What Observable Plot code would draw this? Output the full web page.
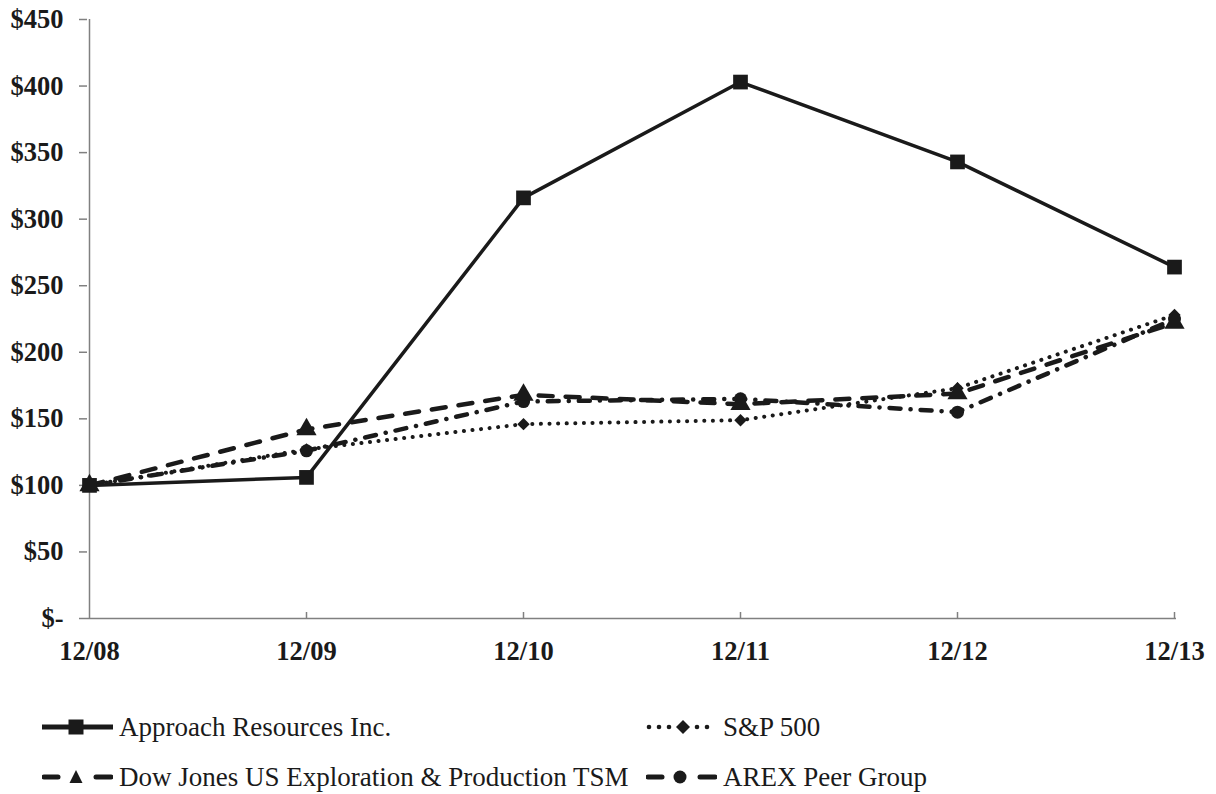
<!DOCTYPE html>
<html>
<head>
<meta charset="utf-8">
<script src="https://cdn.jsdelivr.net/npm/d3@7"></script>
<script src="https://cdn.jsdelivr.net/npm/@observablehq/plot@0.6"></script>
<style>
  html, body { margin: 0; padding: 0; background: #fff; }
  #wrap { width: 1216px; position: relative; }
  #legend { position: relative; width: 1216px; height: 114px; font-family: "Liberation Serif", "Times New Roman", serif; font-size: 27px; color: #1a1a1a; }
  .item { position: absolute; display: flex; align-items: center; height: 30px; white-space: nowrap; }
  .item svg { display: block; margin-right: 6px; }
</style>
</head>
<body>
<div id="wrap"></div>
<script>
const dates = ["12/08", "12/09", "12/10", "12/11", "12/12", "12/13"];
const approach = [100, 106, 316, 403, 343, 264];
const sp500 = [100, 127, 146, 149, 173, 228];
const dowJones = [100, 142, 168, 161, 169, 222];
const peerGroup = [100, 126, 163, 165, 155, 225];
const yTicks = [0, 50, 100, 150, 200, 250, 300, 350, 400, 450];

const seriesDefs = [
  {name: "S&P 500", values: sp500, dash: "0.1,8.5", cap: "round", width: 4, symbol: "diamond2", r: 5.6},
  {name: "AREX Peer Group", values: peerGroup, dash: "11,10,0.1,10", cap: "round", width: 4.5, symbol: "circle", r: 6.5},
  {name: "Dow Jones US Exploration & Production TSM", values: dowJones, dash: "14,13", cap: "round", width: 4.5, symbol: "triangle", r: 7.5},
  {name: "Approach Resources Inc.", values: approach, dash: null, cap: "butt", width: 3.5, symbol: "square", r: 8.3}
];

const rows = s => dates.map((d, i) => ({date: d, value: s.values[i], series: s.name}));

const marks = [
  Plot.ruleY([0], {stroke: "#808080", strokeWidth: 1.5}),
  Plot.ruleX(["12/08"], {stroke: "#808080", strokeWidth: 1.5}),
  Plot.axisY({ticks: yTicks, tickSize: 8, tickPadding: 16, stroke: "#808080", strokeWidth: 1.5,
    tickFormat: d => d === 0 ? "$-" : "$" + d, label: null}),
  Plot.axisX({tickSize: 0, tickPadding: 23, label: null}),
  Plot.axisX(dates.slice(1), {tickSize: -6, text: null, stroke: "#808080", strokeWidth: 1.5, label: null})
];
for (const s of seriesDefs) {
  marks.push(Plot.line(rows(s), {x: "date", y: "value", stroke: "#1a1a1a", strokeWidth: s.width,
    strokeDasharray: s.dash, strokeLinecap: s.cap, strokeLinejoin: "round"}));
  marks.push(Plot.dot(rows(s), {x: "date", y: "value", symbol: () => s.symbol, r: s.r, fill: "#1a1a1a", stroke: "none"}));
}

const chart = Plot.plot({
  width: 1216,
  height: 680,
  marginLeft: 87,
  marginRight: 40,
  marginTop: 19,
  marginBottom: 62,
  x: {type: "point", domain: dates, padding: 0},
  y: {domain: [0, 450], range: [618, 19]},
  symbol: {type: "identity"},
  style: {fontFamily: "'Liberation Serif', 'Times New Roman', serif", fontSize: "26.5px", fontWeight: "bold", color: "#1a1a1a", background: "#fff"},
  marks
});
document.getElementById("wrap").appendChild(chart);

// legend
const legend = document.createElement("div");
legend.id = "legend";
document.getElementById("wrap").appendChild(legend);
const legendPos = [
  {name: "Approach Resources Inc.", left: 42, top: 47},
  {name: "S&P 500", left: 646, top: 47},
  {name: "Dow Jones US Exploration & Production TSM", left: 42, top: 97},
  {name: "AREX Peer Group", left: 646, top: 97}
];
const ns = "http://www.w3.org/2000/svg";
function el(tag, attrs) {
  const e = document.createElementNS(ns, tag);
  for (const k in attrs) e.setAttribute(k, attrs[k]);
  return e;
}
const symPaths = {
  square: "M-7.5,-7.5H7.5V7.5H-7.5Z",
  diamond2: "M0,-7L7,0L0,7L-7,0Z",
  triangle: "M0,-7L6.5,6H-6.5Z",
  circle: "M6.5,0A6.5,6.5 0 1 1 -6.5,0A6.5,6.5 0 1 1 6.5,0Z"
};
for (const p of legendPos) {
  const s = seriesDefs.find(d => d.name === p.name);
  const item = document.createElement("div");
  item.className = "item";
  item.style.left = p.left + "px";
  item.style.top = (p.top - 15) + "px";
  const svg = el("svg", {width: 71, height: 30});
  if (s.symbol === "square") {
    svg.appendChild(el("line", {x1: 0, x2: 71, y1: 15, y2: 15, stroke: "#1a1a1a", "stroke-width": 5}));
  } else if (s.symbol === "diamond2") {
    for (const x of [3, 13, 23, 51, 61]) svg.appendChild(el("circle", {cx: x, cy: 15, r: 2.3, fill: "#1a1a1a"}));
  } else {
    svg.appendChild(el("line", {x1: 2, x2: 16, y1: 15, y2: 15, stroke: "#1a1a1a", "stroke-width": 5, "stroke-linecap": "round"}));
    svg.appendChild(el("line", {x1: 54, x2: 69, y1: 15, y2: 15, stroke: "#1a1a1a", "stroke-width": 5, "stroke-linecap": "round"}));
  }
  svg.appendChild(el("path", {d: symPaths[s.symbol], transform: `translate(${s.symbol === "diamond2" ? 37 : 34},15)`, fill: "#1a1a1a"}));
  item.appendChild(svg);
  const t = document.createElement("span");
  t.textContent = s.name;
  item.appendChild(t);
  legend.appendChild(item);
}
</script>
</body>
</html>
